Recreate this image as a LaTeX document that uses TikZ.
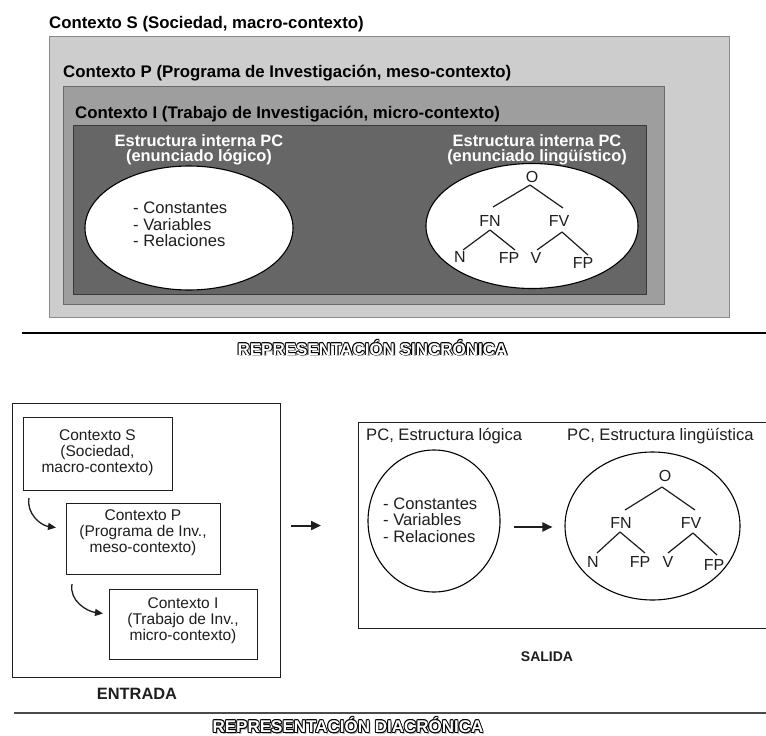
\documentclass[tikz,border=0pt]{standalone}
\usepackage{fontspec}
\setmainfont{Liberation Sans}
\usetikzlibrary{shapes.geometric,arrows.meta,calc}

\definecolor{ctxSfill}{HTML}{CDCDCD}
\definecolor{ctxSline}{HTML}{8A8A8A}
\definecolor{ctxPfill}{HTML}{9E9E9E}
\definecolor{ctxPline}{HTML}{6A6A6A}
\definecolor{ctxIfill}{HTML}{666666}
\definecolor{ctxIline}{HTML}{3A3A3A}
\definecolor{inktxt}{HTML}{1E1E1E}
\definecolor{ruledark}{HTML}{4A4A4A}

\tikzset{
  ctxlabel/.style={font=\fontsize{16.8}{20}\selectfont\bfseries, inner sep=0, anchor=base west},
  whitehead/.style={font=\fontsize{16.4}{18}\selectfont\bfseries, text=white, inner sep=0, anchor=base},
  listtxt/.style={font=\fontsize{16.6}{18}\selectfont, text=inktxt, inner sep=0, anchor=base west},
  boxtxt/.style={font=\fontsize{15.5}{17}\selectfont, text=inktxt, inner sep=0, anchor=base},
  leaf/.style={font=\fontsize{16}{18}\selectfont, text=inktxt, inner sep=0},
  steplabel/.style={font=\fontsize{16.4}{18}\selectfont\bfseries, text=inktxt, inner sep=0, anchor=base},
  titlefont/.style={font=\fontsize{17}{19}\selectfont\bfseries, inner sep=0, anchor=base},
  branch/.style={line width=1.2pt, draw=inktxt},
  ctxbox/.style={rectangle, line width=1pt, inner sep=0, anchor=north west},
  framebox/.style={rectangle, draw=inktxt, line width=1.1pt, fill=white, inner sep=0, anchor=north west},
  bubble/.style={ellipse, draw=black, line width=1.1pt, fill=white, inner sep=0},
  flowarrow/.style={line width=2pt, draw=inktxt, -{Triangle[length=10pt,width=9pt]}},
  bendarrow/.style={line width=1.3pt, draw=inktxt, -{Triangle[length=8pt,width=7pt]}},
}

% hollow (outlined) heading with a soft drop shadow
\newcommand{\hollowtitle}[3]{%
  \node[titlefont, text=gray!55] (#1-sh) at ($#2+(1.6,1.6)$) {#3};
  \foreach \dx/\dy [count=\k] in {-0.9/0, 0.9/0, 0/-0.9, 0/0.9, -0.65/-0.65, 0.65/0.65, -0.65/0.65, 0.65/-0.65}
    \node[titlefont, text=black] (#1-o\k) at ($#2+(\dx,\dy)$) {#3};
  \node[titlefont, text=white] (#1) at #2 {#3};
}

\begin{document}
\begin{tikzpicture}[x=1pt, y=-1pt]
\useasboundingbox (0,0) rectangle (766,736);

% ---------------- synchronic view: nested contexts ----------------
\node[ctxlabel] (labS) at (49,28.5) {Contexto S (Sociedad, macro-contexto)};
\node[ctxbox, fill=ctxSfill, draw=ctxSline, minimum width=680pt, minimum height=281pt] (ctxS) at (49,36) {};
\node[ctxlabel] (labP) at (63,77.5) {Contexto P (Programa de Investigación, meso-contexto)};
\node[ctxbox, fill=ctxPfill, draw=ctxPline, minimum width=601pt, minimum height=218pt] (ctxP) at (63,86) {};
\node[ctxlabel] (labI) at (75,118) {Contexto I (Trabajo de Investigación, micro-contexto)};
\node[ctxbox, fill=ctxIfill, draw=ctxIline, minimum width=573pt, minimum height=169pt] (ctxI) at (73,125) {};

\node[whitehead] (headL1) at (199,146.5) {Estructura interna PC};
\node[whitehead] (headL2) at (199,161.5) {(enunciado lógico)};
\node[whitehead] (headR1) at (537,146.5) {Estructura interna PC};
\node[whitehead] (headR2) at (537,161) {(enunciado lingüístico)};

\node[bubble, minimum width=208pt, minimum height=124pt] (logicA) at (189,228) {};
\node[bubble, minimum width=212pt, minimum height=125pt] (lingA) at (532,226) {};

\node[listtxt] (lcA1) at (133,213) {- Constantes};
\node[listtxt] (lcA2) at (133,230) {- Variables};
\node[listtxt] (lcA3) at (133,246.5) {- Relaciones};

% syntactic tree, upper panel
\node[leaf] (O1) at (532,177) {O};
\node[leaf] (FN1) at (490,221) {FN};
\node[leaf] (FV1) at (559,221) {FV};
\node[leaf] (N1) at (460,257) {N};
\node[leaf] (FPa1) at (509,258) {FP};
\node[leaf] (V1) at (536,258) {V};
\node[leaf] (FPb1) at (583,263) {FP};
\draw[branch] ($(O1)+(-2,8)$) -- ($(FN1)+(3,-14)$);
\draw[branch] ($(O1)+(-2,8)$) -- ($(FV1)+(4,-13)$);
\draw[branch] ($(FN1)+(0,9)$) -- ($(N1)+(3,-7)$);
\draw[branch] ($(FN1)+(0,9)$) -- ($(FPa1)+(6,-8)$);
\draw[branch] ($(FV1)+(3,11)$) -- ($(V1)+(1,-8)$);
\draw[branch] ($(FV1)+(3,11)$) -- ($(FPb1)+(5,-8)$);

\coordinate (ruleAl) at (22,333);
\coordinate (ruleAr) at (766,333);
\draw[line width=1.4pt, black] (ruleAl) -- (ruleAr);
\hollowtitle{synTitle}{(372.5,355)}{REPRESENTACIÓN SINCRÓNICA}

% ---------------- diachronic view: input and output ----------------
\node[framebox, minimum width=268pt, minimum height=274pt] (entrada) at (12,403) {};
\node[framebox, minimum width=149pt, minimum height=73pt] (boxS) at (23,417) {};
\node[framebox, minimum width=154pt, minimum height=71pt] (boxP) at (66,503) {};
\node[framebox, minimum width=148pt, minimum height=70pt] (boxI) at (109,589) {};

\node[boxtxt] (tS1) at (97.5,440) {Contexto S};
\node[boxtxt] (tS2) at (97.5,456) {(Sociedad,};
\node[boxtxt] (tS3) at (97.5,472) {macro-contexto)};
\node[boxtxt] (tP1) at (143,520) {Contexto P};
\node[boxtxt] (tP2) at (143,536) {(Programa de Inv.,};
\node[boxtxt] (tP3) at (143,552) {meso-contexto)};
\node[boxtxt] (tI1) at (183,608) {Contexto I};
\node[boxtxt] (tI2) at (183,624) {(Trabajo de Inv.,};
\node[boxtxt] (tI3) at (183,640) {micro-contexto)};

\draw[bendarrow] ($(boxS.south west)+(6,7)$) to[out=-100,in=172] ($(boxP.west)+(-10,-11.5)$);
\draw[bendarrow] ($(boxP.south west)+(6,9)$) to[out=-100,in=172] ($(boxI.west)+(-6,-11)$);

\node[steplabel] (entradaLab) at (137,699) {ENTRADA};

\node[framebox, minimum width=412pt, minimum height=206pt] (salida) at (358,422) {};
\draw[flowarrow] ($(entrada.east)+(10,-15)$) -- ($(salida.west)+(-37,0)$);

\node[listtxt] (capL) at (366,440.5) {PC, Estructura lógica};
\node[listtxt] (capR) at (567,440.5) {PC, Estructura lingüística};

\node[bubble, minimum width=132pt, minimum height=142pt] (logicB) at (434,521) {};
\node[bubble, minimum width=175pt, minimum height=148pt] (lingB) at (652.5,526) {};

\node[listtxt] (lcB1) at (383,509) {- Constantes};
\node[listtxt] (lcB2) at (383,525) {- Variables};
\node[listtxt] (lcB3) at (383,542) {- Relaciones};

\draw[flowarrow] ($(logicB.east)+(13,6)$) -- ($(lingB.west)+(-12,1)$);

% syntactic tree, lower panel
\node[leaf] (O2) at (665,476) {O};
\node[leaf] (FN2) at (621,523) {FN};
\node[leaf] (FV2) at (691,523) {FV};
\node[leaf] (N2) at (593,562) {N};
\node[leaf] (FPa2) at (640,562) {FP};
\node[leaf] (V2) at (668,562) {V};
\node[leaf] (FPb2) at (714,565) {FP};
\draw[branch] ($(O2)+(-3,11)$) -- ($(FN2)+(4,-13)$);
\draw[branch] ($(O2)+(-3,11)$) -- ($(FV2)+(4,-13)$);
\draw[branch] ($(FN2)+(-1,9)$) -- ($(N2)+(4,-9)$);
\draw[branch] ($(FN2)+(-1,9)$) -- ($(FPa2)+(5,-9)$);
\draw[branch] ($(FV2)+(2,10)$) -- ($(V2)+(0,-9)$);
\draw[branch] ($(FV2)+(2,10)$) -- ($(FPb2)+(3,-10)$);

\node[steplabel, font=\fontsize{14}{16}\selectfont\bfseries] (salidaLab) at (547,661) {SALIDA};

\coordinate (ruleBl) at (14,713);
\coordinate (ruleBr) at (766,713);
\draw[line width=1.6pt, ruledark] (ruleBl) -- (ruleBr);
\hollowtitle{diaTitle}{(348,732.5)}{REPRESENTACIÓN DIACRÓNICA}
\end{tikzpicture}
\end{document}
